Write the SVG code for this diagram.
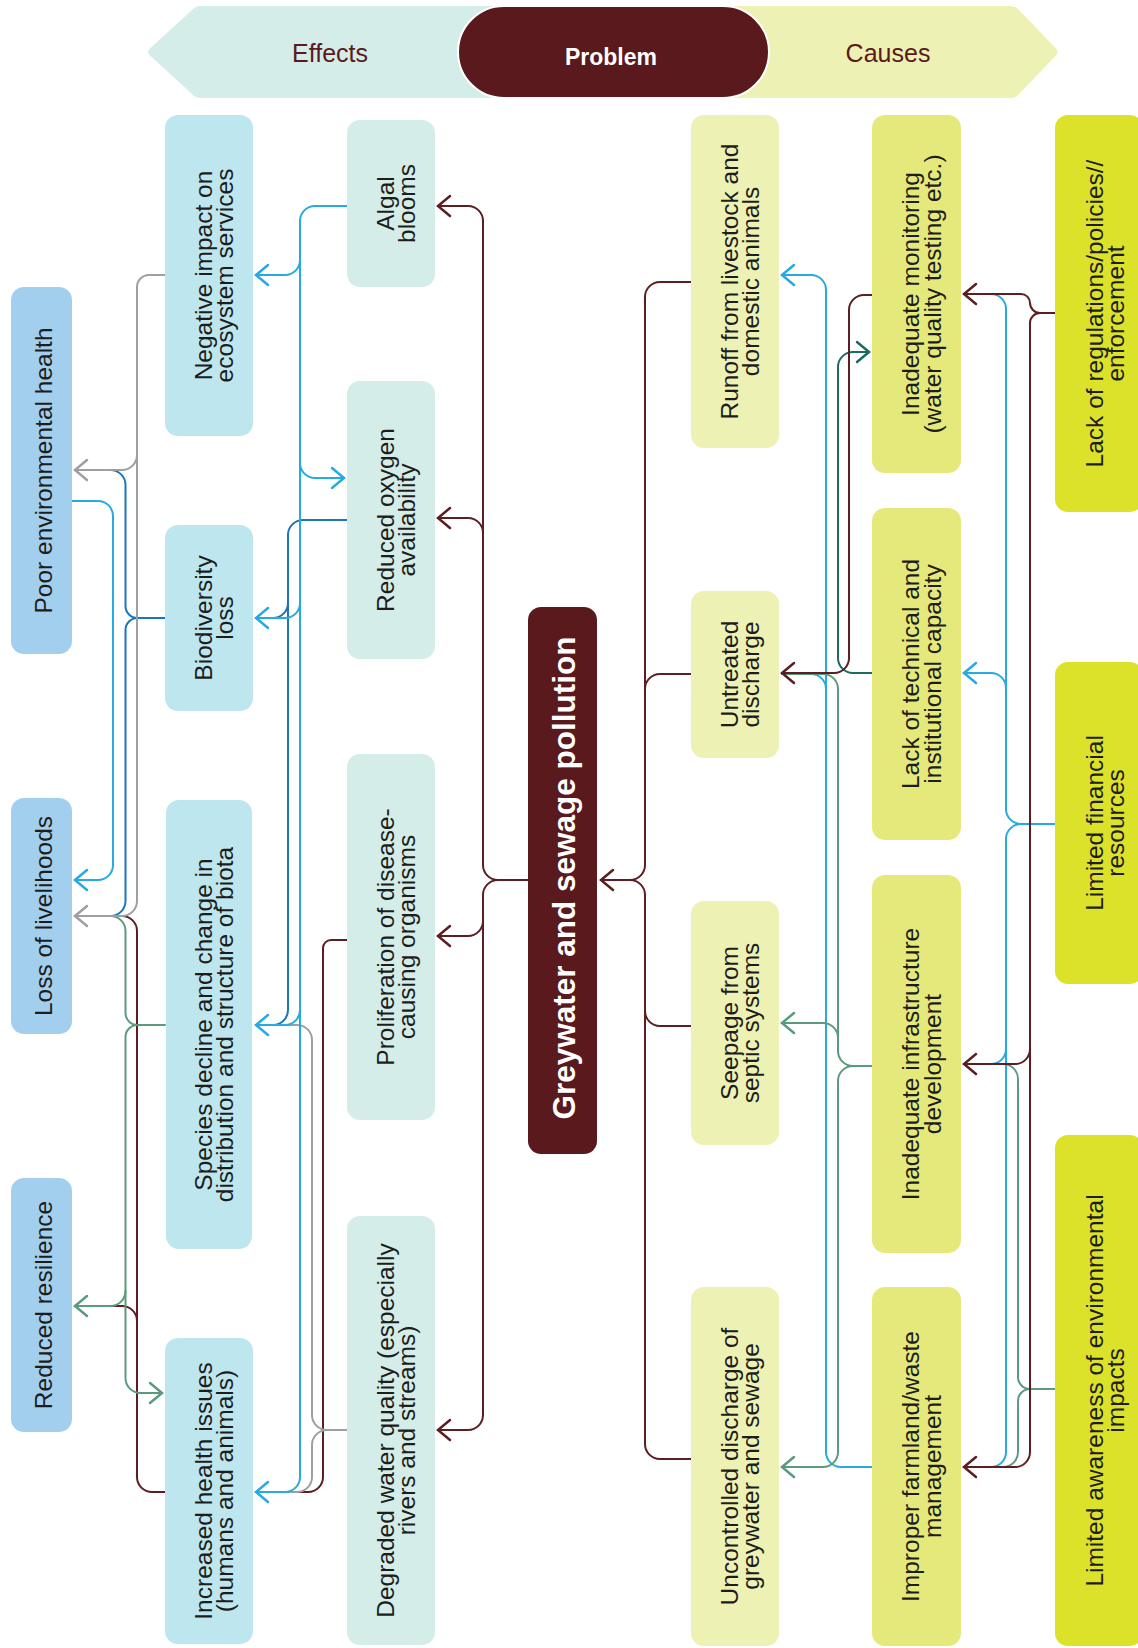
<svg xmlns="http://www.w3.org/2000/svg" width="1138" height="1648" viewBox="0 0 1138 1648">
<style>
.t{font-family:"Liberation Sans",Arial,sans-serif;font-size:24.5px;fill:#1d1d1b;text-anchor:middle}
.h{font-family:"Liberation Sans",Arial,sans-serif;font-size:25px;fill:#5a1a1d;text-anchor:middle}
.hb{font-family:"Liberation Sans",Arial,sans-serif;font-weight:bold;fill:#ffffff;text-anchor:middle}
.a{fill:#a3cfee}.b{fill:#bee6ef}.cc{fill:#d4ede9}.d{fill:#eef1b4}.e{fill:#e5e97c}.f{fill:#dce12a}
.c{fill:none;stroke-width:2;stroke-linecap:round;stroke-linejoin:round}
.mr{stroke:#5c1e20}.cy{stroke:#27aae1}.db{stroke:#1a75bb}.gy{stroke:#9d9fa2}.gn{stroke:#5b9a7d}.tl{stroke:#1c6a62}
.ah{fill:none;stroke-width:2.5;stroke-linecap:round;stroke-linejoin:miter}
</style>
<defs>
<marker id="ah-mr" viewBox="-14 -12 16 24" markerWidth="16" markerHeight="24" refX="0" refY="0" orient="auto" markerUnits="userSpaceOnUse" overflow="visible"><path class="ah" stroke="#5c1e20" d="M-12,-10 L0,0 L-12,10"/></marker>
<marker id="ah-cy" viewBox="-14 -12 16 24" markerWidth="16" markerHeight="24" refX="0" refY="0" orient="auto" markerUnits="userSpaceOnUse" overflow="visible"><path class="ah" stroke="#27aae1" d="M-12,-10 L0,0 L-12,10"/></marker>
<marker id="ah-gy" viewBox="-14 -12 16 24" markerWidth="16" markerHeight="24" refX="0" refY="0" orient="auto" markerUnits="userSpaceOnUse" overflow="visible"><path class="ah" stroke="#9d9fa2" d="M-12,-10 L0,0 L-12,10"/></marker>
<marker id="ah-gn" viewBox="-14 -12 16 24" markerWidth="16" markerHeight="24" refX="0" refY="0" orient="auto" markerUnits="userSpaceOnUse" overflow="visible"><path class="ah" stroke="#5b9a7d" d="M-12,-10 L0,0 L-12,10"/></marker>
<marker id="ah-tl" viewBox="-14 -12 16 24" markerWidth="16" markerHeight="24" refX="0" refY="0" orient="auto" markerUnits="userSpaceOnUse" overflow="visible"><path class="ah" stroke="#1c6a62" d="M-12,-10 L0,0 L-12,10"/></marker>
</defs>

<g id="header">
<path fill="#d4ede9" d="M150 48.5 L193 9 Q196 6 201 6 L500 6 L500 98 L201 98 Q196 98 193 95 L150 55.5 Q146 52 150 48.5 Z"/>
<path fill="#eef1b4" d="M730 6 L1010 6 Q1016 6 1019 10 L1056 48.5 Q1059 52 1056 55.5 L1019 94 Q1016 98 1010 98 L730 98 Z"/>
<text class="h" x="330" y="62">Effects</text>
<text class="h" x="888" y="62">Causes</text>
<rect x="458" y="6" width="311" height="92" rx="46" fill="#5a1a1d" stroke="#ffffff" stroke-width="2"/>
<text class="hb" x="611" y="65" font-size="23">Problem</text>
</g>

<g id="connectors">
<!-- left trunk from problem -->
<path class="c mr" marker-end="url(#ah-mr)" d="M528 880 H498 A15 15 0 0 1 483 865 V221 A15 15 0 0 0 468 206 H438"/>
<path class="c mr" marker-end="url(#ah-mr)" d="M483 533 A15 15 0 0 0 468 518 H438"/>
<path class="c mr" marker-end="url(#ah-mr)" d="M498 880 A15 15 0 0 0 483 895 V1415 A15 15 0 0 1 468 1430 H438"/>
<path class="c mr" marker-end="url(#ah-mr)" d="M483 921 A15 15 0 0 1 468 936 H438"/>
<!-- right trunk into problem -->
<path class="c mr" d="M691 674 H660 A15 15 0 0 0 645 689"/>
<path class="c mr" d="M691 1026 H660 A15 15 0 0 1 645 1011"/>
<path class="c mr" d="M691 1459 H660 A15 15 0 0 1 645 1444 V895 A15 15 0 0 0 630 880"/>
<path class="c mr" marker-end="url(#ah-mr)" d="M691 282 H660 A15 15 0 0 0 645 297 V865 A15 15 0 0 1 630 880 H601"/>

<!-- effects: column C to column B -->
<path class="c db" d="M347 520 H303 A15 15 0 0 0 288 535 V1010 A15 15 0 0 1 273 1025 H256"/>
<path class="c db" d="M288 603 A15 15 0 0 1 273 618 H256"/>
<path class="c mr" d="M347 940 H331 A8 8 0 0 0 323 948 V1477 A15 15 0 0 1 308 1492 H256"/>
<path class="c gy" d="M347 1430 H327 A15 15 0 0 1 312 1415 V1040 A15 15 0 0 0 297 1025 H256"/>
<path class="c gy" d="M327 1430 A15 15 0 0 0 312 1445 V1477 A15 15 0 0 1 297 1492 H256"/>
<path class="c cy" marker-end="url(#ah-cy)" d="M347 206 H315 A15 15 0 0 0 300 221 V1477 A15 15 0 0 1 285 1492 H256"/>
<path class="c cy" marker-end="url(#ah-cy)" d="M300 260 A15 15 0 0 1 285 275 H256"/>
<path class="c cy" marker-end="url(#ah-cy)" d="M300 463 A15 15 0 0 0 315 478 H344"/>
<path class="c cy" marker-end="url(#ah-cy)" d="M300 603 A15 15 0 0 1 285 618 H256"/>
<path class="c cy" marker-end="url(#ah-cy)" d="M300 1010 A15 15 0 0 1 285 1025 H256"/>

<!-- effects: column B to column A -->
<path class="c db" d="M165 618 H137.5 A12 12 0 0 1 125.5 606 V485 A15 15 0 0 0 110.5 470 H75"/>
<path class="c db" d="M137.5 618 A12 12 0 0 0 125.5 630 V901 A15 15 0 0 1 110.5 916 H75"/>
<path class="c mr" d="M165 1492 H152 A15 15 0 0 1 137 1477 V931 A15 15 0 0 0 122 916 H75"/>
<path class="c mr" d="M137 1321 A15 15 0 0 0 122 1306 H75"/>
<path class="c gn" d="M165 1025 H137.5 A12 12 0 0 1 125.5 1013 V931 A15 15 0 0 0 110.5 916 H75"/>
<path class="c gn" marker-end="url(#ah-gn)" d="M137.5 1025 A12 12 0 0 0 125.5 1037 V1291 A15 15 0 0 1 110.5 1306 H75"/>
<path class="c gn" marker-end="url(#ah-gn)" d="M125.5 1291 V1378 A15 15 0 0 0 140.5 1393 H162"/>
<path class="c gy" marker-end="url(#ah-gy)" d="M165 275 H149 A12 12 0 0 0 137 287 V901 A15 15 0 0 1 122 916 H75"/>
<path class="c gy" marker-end="url(#ah-gy)" d="M137 455 A15 15 0 0 1 122 470 H75"/>
<path class="c cy" marker-end="url(#ah-cy)" d="M72 501 H98 A15 15 0 0 1 113 516 V865 A15 15 0 0 1 98 880 H75"/>

<!-- causes: column E to column D -->
<path class="c cy" marker-end="url(#ah-cy)" d="M872 1467 H841 A15 15 0 0 1 826 1452 V290 A15 15 0 0 0 811 275 H782"/>
<path class="c cy" d="M826 689 A15 15 0 0 0 811 674 H782"/>
<path class="c gn" d="M872 1066 H853 A15 15 0 0 1 838 1051 V689 A15 15 0 0 0 823 674 H782"/>
<path class="c gn" marker-end="url(#ah-gn)" d="M838 1038 A15 15 0 0 0 823 1023 H782"/>
<path class="c gn" marker-end="url(#ah-gn)" d="M853 1066 A15 15 0 0 0 838 1081 V1452 A15 15 0 0 1 823 1467 H782"/>
<path class="c tl" marker-end="url(#ah-tl)" d="M872 673 H853 A15 15 0 0 1 838 658 V367 A15 15 0 0 1 853 352 H869"/>
<path class="c mr" marker-end="url(#ah-mr)" d="M872 295 H864 A15 15 0 0 0 849 310 V658 A15 15 0 0 1 834 673 H782"/>

<!-- causes: column F to column E -->
<path class="c cy" d="M1055 824 H1021 A15 15 0 0 1 1006 809 V309 A15 15 0 0 0 991 294 H964"/>
<path class="c cy" marker-end="url(#ah-cy)" d="M1006 688 A15 15 0 0 0 991 673 H964"/>
<path class="c cy" d="M1021 824 A15 15 0 0 0 1006 839 V1049 A15 15 0 0 1 991 1064 H964"/>
<path class="c cy" d="M1006 1049 V1452 A15 15 0 0 1 991 1467 H964"/>
<path class="c gn" d="M1055 1389 H1030 A12 12 0 0 1 1018 1377 V1079 A15 15 0 0 0 1003 1064 H964"/>
<path class="c gn" d="M1030 1389 A12 12 0 0 0 1018 1401 V1452 A15 15 0 0 1 1003 1467 H964"/>
<path class="c mr" marker-end="url(#ah-mr)" d="M1055 313 H1040 A10 10 0 0 1 1030 303 A9 9 0 0 0 1021 294 H964"/>
<path class="c mr" marker-end="url(#ah-mr)" d="M1040 313 A10 10 0 0 0 1030 323 V1049 A15 15 0 0 1 1015 1064 H964"/>
<path class="c mr" marker-end="url(#ah-mr)" d="M1030 1049 V1452 A15 15 0 0 1 1015 1467 H964"/>
</g>

<g id="n-poor"><rect class="a" x="11" y="287" width="61" height="367" rx="13"/><text class="t" transform="translate(41.5 470.5) rotate(-90)"><tspan x="0" y="10.5">Poor environmental health</tspan></text></g>
<g id="n-livelihoods"><rect class="a" x="11" y="798" width="61" height="236" rx="13"/><text class="t" transform="translate(41.5 916) rotate(-90)"><tspan x="0" y="10.5">Loss of livelihoods</tspan></text></g>
<g id="n-resilience"><rect class="a" x="11" y="1178" width="61" height="254" rx="13"/><text class="t" transform="translate(41.5 1305) rotate(-90)"><tspan x="0" y="10.5">Reduced resilience</tspan></text></g>

<g id="n-negative"><rect class="b" x="165" y="115" width="88" height="321" rx="13"/><text class="t" transform="translate(209 275.5) rotate(-90)"><tspan x="0" y="2.5">Negative impact on</tspan><tspan x="0" y="24">ecosystem services</tspan></text></g>
<g id="n-biodiversity"><rect class="b" x="165" y="525" width="88" height="186" rx="13"/><text class="t" transform="translate(209 618) rotate(-90)"><tspan x="0" y="2.5">Biodiversity</tspan><tspan x="0" y="24">loss</tspan></text></g>
<g id="n-species"><rect class="b" x="166" y="800" width="86" height="449" rx="13"/><text class="t" transform="translate(209 1024.5) rotate(-90)"><tspan x="0" y="2.5">Species decline and change in</tspan><tspan x="0" y="24">distribution and structure of biota</tspan></text></g>
<g id="n-health"><rect class="b" x="165" y="1338" width="88" height="306" rx="13"/><text class="t" transform="translate(209 1491) rotate(-90)"><tspan x="0" y="2.5">Increased health issues</tspan><tspan x="0" y="24">(humans and animals)</tspan></text></g>

<g id="n-algal"><rect class="cc" x="347" y="120" width="88" height="167" rx="13"/><text class="t" transform="translate(391 203.5) rotate(-90)"><tspan x="0" y="2.5">Algal</tspan><tspan x="0" y="24">blooms</tspan></text></g>
<g id="n-oxygen"><rect class="cc" x="347" y="381" width="88" height="278" rx="13"/><text class="t" transform="translate(391 520) rotate(-90)"><tspan x="0" y="2.5">Reduced oxygen</tspan><tspan x="0" y="24">availability</tspan></text></g>
<g id="n-proliferation"><rect class="cc" x="347" y="754" width="88" height="366" rx="13"/><text class="t" transform="translate(391 937) rotate(-90)"><tspan x="0" y="2.5">Proliferation of disease-</tspan><tspan x="0" y="24">causing organisms</tspan></text></g>
<g id="n-degraded"><rect class="cc" x="347" y="1216" width="88" height="429" rx="13"/><text class="t" transform="translate(391 1430.5) rotate(-90)"><tspan x="0" y="2.5">Degraded water quality (especially</tspan><tspan x="0" y="24">rivers and streams)</tspan></text></g>

<g id="n-problem"><rect x="528" y="607" width="69" height="547" rx="13" fill="#5a1a1d"/><text class="hb" font-size="31.5" transform="translate(562.5 878) rotate(-90)"><tspan x="0" y="12">Greywater and sewage pollution</tspan></text></g>

<g id="n-runoff"><rect class="d" x="691" y="115" width="88" height="333" rx="13"/><text class="t" transform="translate(735 281.5) rotate(-90)"><tspan x="0" y="2.5">Runoff from livestock and</tspan><tspan x="0" y="24">domestic animals</tspan></text></g>
<g id="n-untreated"><rect class="d" x="691" y="591" width="88" height="167" rx="13"/><text class="t" transform="translate(735 674.5) rotate(-90)"><tspan x="0" y="2.5">Untreated</tspan><tspan x="0" y="24">discharge</tspan></text></g>
<g id="n-seepage"><rect class="d" x="691" y="901" width="88" height="244" rx="13"/><text class="t" transform="translate(735 1023) rotate(-90)"><tspan x="0" y="2.5">Seepage from</tspan><tspan x="0" y="24">septic systems</tspan></text></g>
<g id="n-uncontrolled"><rect class="d" x="691" y="1287" width="88" height="359" rx="13"/><text class="t" transform="translate(735 1466.5) rotate(-90)"><tspan x="0" y="2.5">Uncontrolled discharge of</tspan><tspan x="0" y="24">greywater and sewage</tspan></text></g>

<g id="n-monitoring"><rect class="e" x="872" y="115" width="89" height="358" rx="13"/><text class="t" transform="translate(916.5 294) rotate(-90)"><tspan x="0" y="2.5">Inadequate monitoring</tspan><tspan x="0" y="24">(water quality testing etc.)</tspan></text></g>
<g id="n-technical"><rect class="e" x="872" y="508" width="89" height="332" rx="13"/><text class="t" transform="translate(916.5 674) rotate(-90)"><tspan x="0" y="2.5">Lack of technical and</tspan><tspan x="0" y="24">institutional capacity</tspan></text></g>
<g id="n-infrastructure"><rect class="e" x="872" y="875" width="89" height="378" rx="13"/><text class="t" transform="translate(916.5 1064) rotate(-90)"><tspan x="0" y="2.5">Inadequate infrastructure</tspan><tspan x="0" y="24">development</tspan></text></g>
<g id="n-farmland"><rect class="e" x="872" y="1287" width="89" height="359" rx="13"/><text class="t" transform="translate(916.5 1466.5) rotate(-90)"><tspan x="0" y="2.5">Improper farmland/waste</tspan><tspan x="0" y="24">management</tspan></text></g>

<g id="n-regulations"><rect class="f" x="1055" y="115" width="88" height="397" rx="13"/><text class="t" transform="translate(1100 313.5) rotate(-90)"><tspan x="0" y="2.5">Lack of regulations/policies//</tspan><tspan x="0" y="24">enforcement</tspan></text></g>
<g id="n-financial"><rect class="f" x="1055" y="662" width="88" height="322" rx="13"/><text class="t" transform="translate(1100 823) rotate(-90)"><tspan x="0" y="2.5">Limited financial</tspan><tspan x="0" y="24">resources</tspan></text></g>
<g id="n-awareness"><rect class="f" x="1055" y="1135" width="88" height="511" rx="13"/><text class="t" transform="translate(1100 1390.5) rotate(-90)"><tspan x="0" y="2.5">Limited awareness of environmental</tspan><tspan x="0" y="24">impacts</tspan></text></g>
</svg>
